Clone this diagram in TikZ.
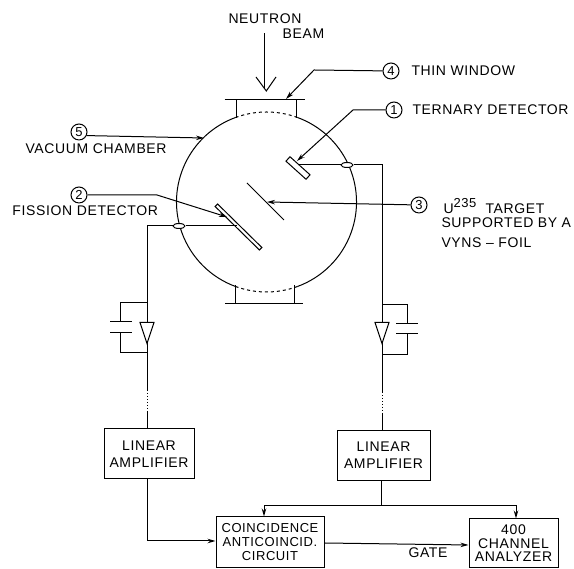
\documentclass[tikz,border=0pt]{standalone}
\usepackage{fontspec}
\setmainfont[LetterSpace=4.5]{Liberation Sans}
\usetikzlibrary{arrows.meta,positioning,shapes.geometric}

\begin{document}
\begin{tikzpicture}[x=1pt, y=1pt, >={Stealth[length=8pt,width=4.5pt]}, line width=1pt,
  every node/.style={font=\fontsize{14}{17}\selectfont, inner sep=0pt},
  lbl/.style={align=left, anchor=west},
  numcirc/.style={circle, draw, minimum size=16pt, font=\fontsize{13}{14}\selectfont},
  ampbox/.style={draw, align=center},
  feed/.style={ellipse, draw, fill=white, minimum width=12pt, minimum height=5pt},
  amp/.style={isosceles triangle, isosceles triangle apex angle=37, draw, fill=white, shape border rotate=-90, minimum height=21pt, minimum width=14pt, inner sep=0pt}]
\path[use as bounding box] (0,0) rectangle (574,569);
% chamber
\coordinate (C) at (266.5,367);
\draw (C) ++(70:90) arc (70:-70:90);
\draw (C) ++(110:90) arc (110:250:90);
\draw[dashed] (C) ++(70:90) arc (70:110:90);
\draw[dashed] (C) ++(-70:90) arc (-70:-110:90);
\draw (236,451) -- (236,469);
\draw (296,451) -- (296,469);
\draw (224.5,469) -- (305,469);
\draw (235,284) -- (235,265);
\draw (294,284) -- (294,265);
\draw (225,265) -- (303,265);
% detectors and target
\node[draw, fill=white, minimum width=27pt, minimum height=6pt, rotate=-42] (Det1) at (298,401) {};
\node[draw, fill=white, minimum width=62pt, minimum height=3.5pt, rotate=-44.5] (Det2) at (238.5,342) {};
\coordinate (T1) at (247,386);
\coordinate (T2) at (284,349);
\coordinate (det1pin) at (298,404);
\coordinate (det2pin) at (237,343);
\draw (T1) -- (T2);
% beam
\node (neutron) at (265,550) {NEUTRON};
\node (beam) at (303.5,535) {BEAM};
\coordinate (beamtop) at (266.3,536);
\coordinate (beamtip) at (266.3,478);
\draw[double, line width=0.9pt, double distance=2.4pt] (beamtop) -- (266.3,480);
\draw (256,492) -- (beamtip) -- (276,492);
% numbered labels
\node[numcirc] (n4) at (391,498) {4};
\node[lbl] (l4) at (411,498) {THIN WINDOW};
\node[numcirc] (n1) at (394,459) {1};
\node[lbl] (l1) at (412,459) {TERNARY DETECTOR};
\node[numcirc] (n5) at (79,437) {5};
\node[lbl] (l5) at (25,420) {VACUUM CHAMBER};
\node[numcirc] (n2) at (79,374) {2};
\node[lbl] (l2) at (12,358) {FISSION DETECTOR};
\node[numcirc] (n3) at (419,364) {3};
\node[lbl] (l3) at (443,363) {U\raisebox{6pt}{\fontsize{13}{14}\selectfont 235}\ \ TARGET};
\node[lbl] (l3b) at (441,346) {SUPPORTED BY A};
\node[lbl] (l3c) at (441,326) {VYNS -- FOIL};
\draw[->] (n4) -- (314,499) -- (286,470);
\draw[->] (n1) -- (353,459) -- (297,408);
\draw[->] (n5.-25) -- (204,431);
\draw[->] (n2) -- (157,374) -- (227,352);
\draw[->] (n3) -- (267,367);
% amplifier chains
\node[ampbox, minimum width=90pt, minimum height=50pt] (ampL) at (149,115) {LINEAR\\AMPLIFIER};
\node[ampbox, minimum width=93pt, minimum height=50.5pt] (ampR) at (383.5,113.5) {LINEAR\\AMPLIFIER};
\node[ampbox, minimum width=108pt, minimum height=51pt, font=\fontsize{13}{14}\selectfont] (coinc) at (270,26.5) {COINCIDENCE\\ANTICOINCID.\\CIRCUIT};
\node[ampbox, minimum width=89pt, minimum height=49pt, font=\fontsize{14}{13.5}\selectfont] (mca) at (513.5,25.5) {400\\CHANNEL\\ANALYZER};
\node (gate) at (428,16) {GATE};
\node[feed] (feedL) at (179,343) {};
\node[feed] (feedR) at (347,404) {};
% left wiring
\draw (det2pin) -- (feedL) -- (147,343) -- (147,179);
\draw[dotted] (147,179) -- (147,157);
\draw (147,157) -- (ampL.north -| 147,0);
\draw (147,266) -- (120,266) -- (120,247);
\draw (110,247) -- (132,247);
\draw (110,236) -- (132,236);
\draw (120,236) -- (120,216) -- (147,216);
% right wiring
\draw (det1pin) -- (feedR) -- (382,404) -- (382,177);
\draw[dotted] (382,177) -- (382,156);
\draw (382,156) -- (ampR.north -| 382,0);
\draw (382,264) -- (407,264) -- (407,245);
\draw (396,245) -- (418,245);
\draw (396,235) -- (418,235);
\draw (407,235) -- (407,214) -- (382,214);
\node[amp] (triL) at (147,241.5) {};
\node[amp] (triR) at (382,241.5) {};
% signal paths
\coordinate (split) at (381,63);
\draw (ampR.south -| split) -- (split);
\draw[->] (split) -- (264,63) -- (coinc.north -| 264,0);
\draw[->] (split) -- (516,63) -- (mca.north -| 516,0);
\draw[->] (ampL.south -| 147,0) -- (147,28) -- (coinc.west |- 0,28);
\draw[->] (coinc.east |- 0,26) -- (mca.west |- 0,24);
\end{tikzpicture}
\end{document}
